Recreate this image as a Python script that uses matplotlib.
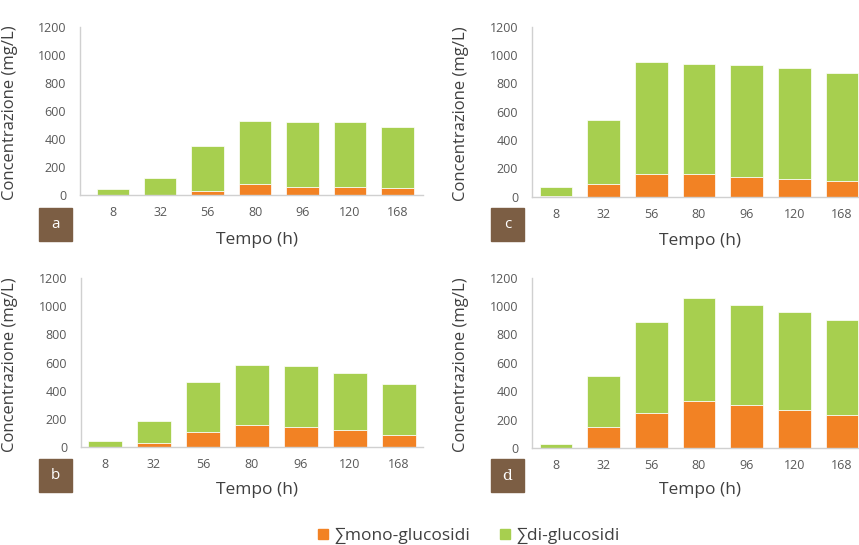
import numpy as np
import matplotlib
matplotlib.use("Agg")
import matplotlib.pyplot as plt
from matplotlib.patches import Rectangle
from matplotlib.lines import Line2D

plt.rcParams["font.family"] = ["Open Sans", "DejaVu Sans"]

# --- data (mg/L) ------------------------------------------------------------
tempo = ["8", "32", "56", "80", "96", "120", "168"]

# totals per bar = mono + di
mono_a = [2, 5, 33, 81, 62, 62, 55]
tot_a = [43, 126, 353, 529, 519, 519, 488]
mono_b = [3, 28, 111, 160, 146, 125, 87]
tot_b = [42, 186, 462, 585, 575, 523, 448]
mono_c = [5, 89, 158, 158, 141, 127, 111]
tot_c = [66, 541, 948, 939, 929, 908, 871]
mono_d = [2, 146, 249, 333, 301, 270, 235]
tot_d = [26, 505, 888, 1059, 1008, 961, 902]

ORANGE = "#F28224"
GREEN = "#A7CF4F"
BROWN = "#7C5E44"
TXT = "#404040"
TICK = "#595959"
SPINE = "#D0D0D0"

W, H = 859, 545
fig = plt.figure(figsize=(W / 100, H / 100), dpi=100)


def px_axes(left, right, y0, y1200):
    # axes rectangle given in pixel coordinates (top-left origin)
    return fig.add_axes([left / W, 1 - y0 / H, (right - left) / W, (y0 - y1200) / H])


def panel(ax, mono, tot, xlim, ylab_x, xlab_xy):
    mono = np.array(mono, float)
    di = np.array(tot, float) - mono
    x = np.arange(len(tempo))
    ax.bar(x, mono, width=0.68, color=ORANGE, edgecolor="white", linewidth=0.5)
    ax.bar(x, di, bottom=mono, width=0.68, color=GREEN, edgecolor="white", linewidth=0.5)
    ax.set_xlim(*xlim)
    ax.set_ylim(0, 1200)
    ax.set_yticks(np.arange(0, 1201, 200))
    ax.set_xticks(x)
    ax.set_xticklabels(tempo)
    for s in ("top", "right"):
        ax.spines[s].set_visible(False)
    for s in ("left", "bottom"):
        ax.spines[s].set_color(SPINE)
        ax.spines[s].set_linewidth(1.0)
    ax.tick_params(axis="both", length=0, colors=TICK, labelsize=9)
    ax.tick_params(axis="y", pad=10)
    ax.tick_params(axis="x", pad=8)
    ax.set_ylabel("Concentrazione (mg/L)", fontsize=12, color=TXT)
    ax.yaxis.set_label_coords(ylab_x, 0.49)
    ax.set_xlabel("Tempo (h)", fontsize=12.5, color=TXT, va="center")
    ax.xaxis.set_label_coords(*xlab_xy)


def tag(letter, x, y, **kw):
    fig.patches.append(Rectangle((x / W, 1 - (y + 33) / H), 33 / W, 33 / H,
                                 transform=fig.transFigure, color=BROWN))
    fig.text((x + 16.5) / W, 1 - (y + 16.5) / H, letter, color="white",
             fontsize=11, ha="center", va="center", **kw)


ax_a = px_axes(80, 423, 195.3, 26.7)
panel(ax_a, mono_a, tot_a, (-0.69, 6.54), -0.18, (0.516, -0.265))
ax_b = px_axes(81, 423, 447.3, 277.7)
panel(ax_b, mono_b, tot_b, (-0.49, 6.49), -0.184, (0.515, -0.252))
ax_c = px_axes(532, 866, 196.7, 26.7)
panel(ax_c, mono_c, tot_c, (-0.5, 6.5), -0.19, (0.503, -0.26))
ax_d = px_axes(532, 866, 448, 277.7)
panel(ax_d, mono_d, tot_d, (-0.5, 6.5), -0.19, (0.503, -0.247))

tag("a", 39, 208)
tag("b", 39, 459)
tag("c", 491, 208)
tag("d", 491, 459, family="DejaVu Serif")

handles = [Line2D([], [], marker="s", ls="none", color=ORANGE, markersize=7),
           Line2D([], [], marker="s", ls="none", color=GREEN, markersize=7)]
fig.legend(handles, ["∑mono-glucosidi", "∑di-glucosidi"], loc="center",
           bbox_to_anchor=(468 / W, 1 - 536 / H), ncol=2, frameon=False,
           fontsize=12.5, labelcolor=TXT, handlelength=0.8, handletextpad=0.25,
           columnspacing=1.6)

fig.savefig("out.png", dpi=100)
